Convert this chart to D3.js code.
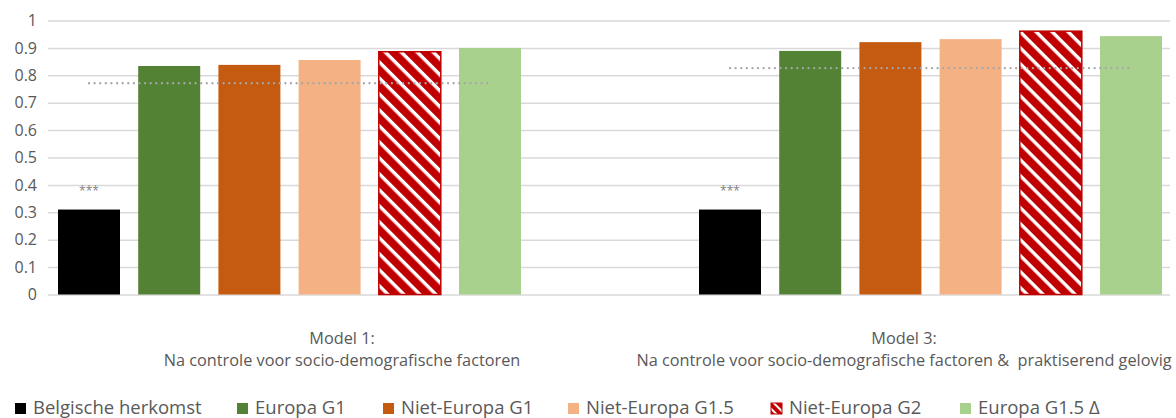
<!DOCTYPE html>
<html>
<head>
<meta charset="utf-8">
<script src="https://cdn.jsdelivr.net/npm/d3@7"></script>
<style>
html, body { margin: 0; padding: 0; background: #ffffff; }
svg { display: block; font-family: "Open Sans", "Noto Sans", sans-serif; }
</style>
</head>
<body>
<svg id="chart" width="1176" height="418"></svg>
<script>
// ---------------- DATA ----------------
const models = ["Model 1", "Model 3"];
const modelLine1 = ["Model 1:", "Model 3:"];
const modelLine2 = [
  "Na controle voor socio-demografische factoren",
  "Na controle voor socio-demografische factoren &  praktiserend gelovig"
];
const seriesNames = ["Belgische herkomst", "Europa G1", "Niet-Europa G1", "Niet-Europa G1.5", "Niet-Europa G2", "Europa G1.5 Δ"];
const belgischeHerkomst = [0.31, 0.31];
const europaG1 = [0.834, 0.889];
const nietEuropaG1 = [0.838, 0.921];
const nietEuropaG15 = [0.856, 0.932];
const nietEuropaG2 = [0.886, 0.961];
const europaG15Delta = [0.90, 0.943];
const referenceLine = [0.771, 0.826];
const significance = ["***", "***"];
const yTicks = [0, 0.1, 0.2, 0.3, 0.4, 0.5, 0.6, 0.7, 0.8, 0.9, 1];

// ---------------- STYLE / LAYOUT ----------------
const seriesValues = [belgischeHerkomst, europaG1, nietEuropaG1, nietEuropaG15, nietEuropaG2, europaG15Delta];
const seriesFill = ["#000000", "#548235", "#C55A11", "#F4B183", "url(#hatch)", "#A9D18E"];
const textColor = "#595959";
const labelCenters = [342, 904];
const legendX = [15, 237, 383, 568, 771, 960];

const svg = d3.select("#chart");

// hatch pattern
const defs = svg.append("defs");
const pat = defs.append("pattern")
  .attr("id", "hatch")
  .attr("patternUnits", "userSpaceOnUse")
  .attr("width", 11.3).attr("height", 11.3)
  .attr("patternTransform", "rotate(45)");
pat.append("rect").attr("width", 11.3).attr("height", 11.3).attr("fill", "#C00000");
pat.append("rect").attr("x", 0).attr("y", 0).attr("width", 11.3).attr("height", 3.4).attr("fill", "#ffffff");

const patL = defs.append("pattern")
  .attr("id", "hatchLegend")
  .attr("patternUnits", "userSpaceOnUse")
  .attr("width", 6).attr("height", 6)
  .attr("patternTransform", "rotate(45)");
patL.append("rect").attr("width", 6).attr("height", 6).attr("fill", "#C00000");
patL.append("rect").attr("width", 6).attr("height", 2).attr("fill", "#ffffff");

// scales
const y = d3.scaleLinear().domain([0, 1]).range([294.5, 20.5]);
const x0 = d3.scaleBand().domain(models).range([-31, 1251]);
const x1 = d3.scaleBand().domain(seriesNames).range([79.9, 561.1]).paddingInner(0.227).paddingOuter(0.1135);

// y axis with gridlines
const gridLeft = 48, gridRight = 1170;
const yAxis = d3.axisLeft(y)
  .tickValues(yTicks)
  .tickSize(-(gridRight - gridLeft))
  .tickPadding(11)
  .tickFormat(d3.format("~g"));
const gAxis = svg.append("g").attr("transform", `translate(${gridLeft},0)`).call(yAxis);
gAxis.select(".domain").remove();
gAxis.selectAll(".tick line").attr("stroke", "#D9D9D9").attr("stroke-width", 1.5);
gAxis.selectAll(".tick text")
  .attr("fill", textColor)
  .style("font-size", "16px")
  .style("font-family", "'Open Sans', sans-serif");

// bars
const barData = [];
models.forEach((m, mi) => {
  seriesNames.forEach((s, si) => {
    barData.push({ model: m, series: s, value: seriesValues[si][mi], fill: seriesFill[si] });
  });
});
svg.append("g").selectAll("rect")
  .data(barData)
  .join("rect")
  .attr("x", d => x0(d.model) + x1(d.series))
  .attr("y", d => y(d.value))
  .attr("width", x1.bandwidth())
  .attr("height", d => y(0) - y(d.value))
  .attr("fill", d => d.fill)
  .attr("stroke", d => d.series === "Niet-Europa G2" ? "#C00000" : "none")
  .attr("stroke-width", 1.5);

// dotted reference lines
svg.append("g").selectAll("line")
  .data(models.map((m, i) => ({ model: m, value: referenceLine[i] })))
  .join("line")
  .attr("x1", d => x0(d.model) + x1(seriesNames[0]) + x1.bandwidth() / 2)
  .attr("x2", d => x0(d.model) + x1(seriesNames[seriesNames.length - 1]) + x1.bandwidth() / 2)
  .attr("y1", d => y(d.value))
  .attr("y2", d => y(d.value))
  .attr("stroke", "#A6A6A6")
  .attr("stroke-width", 2.3)
  .attr("stroke-linecap", "round")
  .attr("stroke-dasharray", "0.01 5.6");

// significance stars
svg.append("g").selectAll("text")
  .data(models.map((m, i) => ({ model: m, value: belgischeHerkomst[i], label: significance[i] })))
  .join("text")
  .attr("x", d => x0(d.model) + x1(seriesNames[0]) + x1.bandwidth() / 2)
  .attr("y", d => y(d.value) - 15)
  .attr("text-anchor", "middle")
  .attr("fill", "#7F7F7F")
  .style("font-size", "12px")
  .text(d => d.label);

// category labels
const cat = svg.append("g");
models.forEach((m, i) => {
  cat.append("text")
    .attr("x", labelCenters[i]).attr("y", 344)
    .attr("text-anchor", "middle").attr("fill", textColor)
    .style("font-size", "16.3px")
    .text(modelLine1[i]);
  cat.append("text")
    .attr("x", labelCenters[i]).attr("y", 366)
    .attr("text-anchor", "middle").attr("fill", textColor)
    .attr("xml:space", "preserve")
    .style("white-space", "pre")
    .style("font-size", "16.3px")
    .text(modelLine2[i]);
});

// legend
const legend = svg.append("g");
seriesNames.forEach((s, i) => {
  const g = legend.append("g").attr("transform", `translate(${legendX[i]},0)`);
  g.append("rect")
    .attr("x", 0).attr("y", 403).attr("width", 11).attr("height", 11)
    .attr("fill", s === "Niet-Europa G2" ? "url(#hatchLegend)" : seriesFill[i])
    .attr("stroke", s === "Niet-Europa G2" ? "#C00000" : "none")
    .attr("stroke-width", 1);
  g.append("text")
    .attr("x", 18).attr("y", 414)
    .attr("fill", textColor)
    .style("font-size", "18.5px")
    .text(s);
});
</script>
</body>
</html>
